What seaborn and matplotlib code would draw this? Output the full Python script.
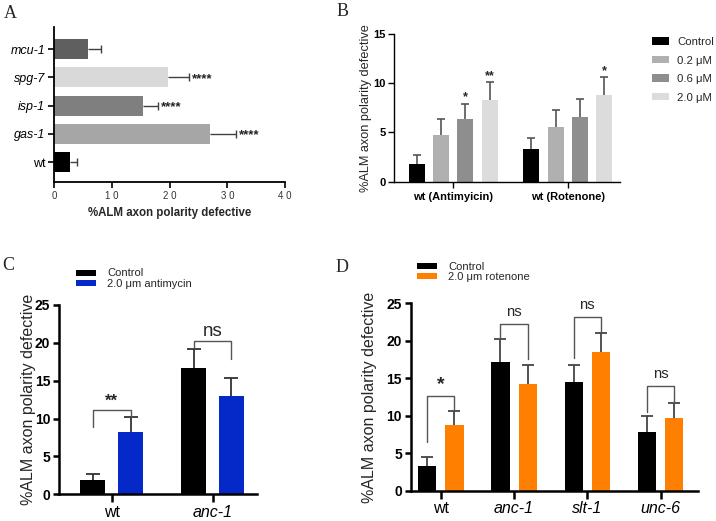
import numpy as np
import pandas as pd
import matplotlib
matplotlib.use("Agg")
import matplotlib.pyplot as plt
import seaborn as sns

# ---- Panel A: mitochondrial mutants ----
a_strains = ["mcu-1", "spg-7", "isp-1", "gas-1", "wt"]
a_mean = [5.9, 19.8, 15.4, 27.0, 2.8]
a_err = [2.2, 3.5, 2.6, 4.5, 1.2]
a_sig = ["", "****", "****", "****", ""]
a_colors = ["#5f5f5f", "#d9d9d9", "#7f7f7f", "#a6a6a6", "#000000"]

# ---- Panel B: dose response ----
b_groups = ["wt (Antimyicin)", "wt (Rotenone)"]
b_doses = ["Control", "0.2 μM", "0.6 μM", "2.0 μM"]
b_control = [1.83, 3.32]
b_02 = [4.77, 5.59]
b_06 = [6.33, 6.60]
b_20 = [8.30, 8.80]
b_control_err = [0.84, 1.15]
b_02_err = [1.56, 1.66]
b_06_err = [1.59, 1.76]
b_20_err = [1.79, 1.80]
b_06_sig = ["*", ""]
b_20_sig = ["**", "*"]
b_colors = ["#000000", "#b0b0b0", "#8e8e8e", "#dcdcdc"]

# ---- Panel C: antimycin ----
c_strains = ["wt", "anc-1"]
c_conditions = ["Control", "2.0 μm antimycin"]
c_control = [1.85, 16.64]
c_control_err = [0.79, 2.59]
c_treated = [8.27, 12.98]
c_treated_err = [1.90, 2.34]
c_sig = ["**", "ns"]
c_colors = ["#000000", "#0528c8"]

# ---- Panel D: rotenone ----
d_strains = ["wt", "anc-1", "slt-1", "unc-6"]
d_conditions = ["Control", "2.0 μm rotenone"]
d_control = [3.25, 17.2, 14.46, 7.87]
d_control_err = [1.24, 3.1, 2.27, 2.05]
d_treated = [8.81, 14.23, 18.55, 9.74]
d_treated_err = [1.87, 2.5, 2.45, 2.0]
d_sig = ["*", "ns", "ns", "ns"]
d_colors = ["#000000", "#ff7f00"]

sns.set_theme(style="ticks")
plt.rcParams["font.family"] = ["Liberation Sans", "DejaVu Sans"]
plt.rcParams["axes.edgecolor"] = "black"
plt.rcParams["xtick.color"] = "black"
plt.rcParams["ytick.color"] = "black"

W, H = 716, 521
fig = plt.figure(figsize=(W / 100, H / 100), dpi=100)


def px_axes(left, right, top, bottom):
    return fig.add_axes([left / W, 1 - bottom / H, (right - left) / W, (bottom - top) / H])


def upper_error(ax, x, y, err, color, lw, capsize, horizontal=False):
    # one-sided SEM bar: hide the cap that sits on the bar end
    z = np.zeros(len(err))
    if horizontal:
        eb = ax.errorbar(x, y, xerr=[z, err], fmt="none", ecolor=color,
                         elinewidth=lw, capthick=lw, capsize=capsize, zorder=1)
    else:
        eb = ax.errorbar(x, y, yerr=[z, err], fmt="none", ecolor=color,
                         elinewidth=lw, capthick=lw, capsize=capsize, zorder=1)
    eb[1][0].set_visible(False)


def add_errors(ax, errs, color, lw, capsize):
    for container, err in zip(ax.containers, errs):
        xs = [b.get_x() + b.get_width() / 2 for b in container]
        ys = [b.get_height() for b in container]
        upper_error(ax, xs, ys, err, color, lw, capsize)


def style_spines(ax, lw):
    sns.despine(ax=ax)
    for s in ["left", "bottom"]:
        ax.spines[s].set_linewidth(lw)


# ================= Panel A =================
axA = px_axes(54.3, 285, 26.7, 181.7)
sns.barplot(x=a_mean, y=a_strains, hue=a_strains, palette=a_colors, legend=False,
            orient="h", width=0.7, saturation=1, linewidth=0, errorbar=None, ax=axA)
for container, err, sig in zip(axA.containers, a_err, a_sig):
    bar = container[0]
    yc = bar.get_y() + bar.get_height() / 2
    upper_error(axA, [bar.get_width()], [yc], [err], "#404040", 1, 3.2, horizontal=True)
    if sig:
        axA.text(bar.get_width() + err + 0.5, yc + 0.05, sig, ha="left", va="center",
                 fontsize=9.5, fontweight="bold", color="#222222")
axA.set_xlim(0, 40)
axA.set_ylim(4.685, -0.79)
axA.set_xticks([0, 10, 20, 30, 40])
axA.set_xticklabels(["0", "1 0", "2 0", "3 0", "4 0"], fontsize=7, color="#333333")
axA.set_yticks(range(len(a_strains)))
axA.set_yticklabels(a_strains, fontsize=9)
for lab in axA.get_yticklabels():
    if lab.get_text() != "wt":
        lab.set_style("italic")
axA.tick_params(axis="both", length=4.5, width=1.2, pad=2)
axA.set_ylabel("")
axA.set_xlabel("%ALM axon polarity defective", fontsize=8.3, fontweight="bold")
axA.xaxis.set_label_coords(0.5, -0.165)
style_spines(axA, 1.3)

# ================= Panel B =================
axB = px_axes(394, 620, 34, 181.7)
b_df = pd.DataFrame({
    "group": b_groups * 4,
    "dose": np.repeat(b_doses, len(b_groups)),
    "value": b_control + b_02 + b_06 + b_20,
})
sns.barplot(data=b_df, x="group", y="value", hue="dose", palette=b_colors, width=0.85,
            gap=0.34, saturation=1, linewidth=0, errorbar=None, ax=axB)
add_errors(axB, [b_control_err, b_02_err, b_06_err, b_20_err], "#555555", 1.2, 3.1)
for container, vals, errs, sigs in [(axB.containers[2], b_06, b_06_err, b_06_sig),
                                    (axB.containers[3], b_20, b_20_err, b_20_sig)]:
    for bar, v, e, s in zip(container, vals, errs, sigs):
        if s:
            axB.text(bar.get_x() + bar.get_width() / 2, v + e + 0.05, s, ha="center",
                     va="bottom", fontsize=9, fontweight="bold")
axB.set_ylim(0, 15)
axB.set_xlim(-0.518, 1.457)
axB.set_yticks([0, 5, 10, 15])
axB.tick_params(axis="both", length=4, width=1, pad=2)
axB.tick_params(axis="x", pad=3.5)
for lab in axB.get_yticklabels() + axB.get_xticklabels():
    lab.set_fontweight("bold")
    lab.set_fontsize(8)
axB.set_xlabel("")
axB.set_ylabel("%ALM axon polarity defective", fontsize=9.2)
axB.yaxis.set_label_coords(-0.097, 0.5)
style_spines(axB, 1)
h, l = axB.get_legend_handles_labels()
axB.legend(h, l, loc="upper left", bbox_to_anchor=(652 / W, 1 - 37 / H),
           bbox_transform=fig.transFigure, frameon=False, fontsize=8.2,
           handlelength=1.5, handleheight=0.6, handletextpad=0.7, labelspacing=0.75,
           borderpad=0, borderaxespad=0)


# ================= Panels C and D =================
def paired_panel(ax, strains, conditions, control, control_err, treated, treated_err,
                 colors, ecolor, capsize):
    df = pd.DataFrame({
        "strain": strains * 2,
        "condition": np.repeat(conditions, len(strains)),
        "value": control + treated,
    })
    sns.barplot(data=df, x="strain", y="value", hue="condition", palette=colors,
                width=0.745, gap=0.33, saturation=1, linewidth=0, errorbar=None, ax=ax)
    add_errors(ax, [control_err, treated_err], ecolor, 1.3, capsize)
    ax.set_ylim(0, 25)
    ax.set_yticks([0, 5, 10, 15, 20, 25])
    ax.tick_params(axis="y", length=4.5, width=1.8, pad=2)
    ax.tick_params(axis="x", length=6, width=1.8, pad=1.5)
    for lab in ax.get_yticklabels():
        lab.set_fontweight("bold")
        lab.set_fontsize(10)
    for lab in ax.get_xticklabels():
        lab.set_fontsize(11.5)
        if lab.get_text() != "wt":
            lab.set_style("italic")
    ax.set_xlabel("")
    ax.set_ylabel("%ALM axon polarity defective", fontsize=11.5)
    style_spines(ax, 1.8)
    return [b.get_x() + b.get_width() / 2 for b in ax.containers[0]], \
           [b.get_x() + b.get_width() / 2 for b in ax.containers[1]]


def bracket(ax, x1, x2, ytop, yl, yr, text, fs, dy, bold=False):
    ax.plot([x1, x1, x2, x2], [yl, ytop, ytop, yr], color="#555555", lw=1, zorder=2)
    ax.text((x1 + x2) / 2, ytop + dy, text, ha="center", va="bottom", fontsize=fs,
            fontweight="bold" if bold else "normal")


axC = px_axes(59.3, 256.7, 305, 494.3)
cx0, cx1 = paired_panel(axC, c_strains, c_conditions, c_control, c_control_err,
                        c_treated, c_treated_err, c_colors, "#333333", 4.8)
axC.set_xlim(-0.519, 1.436)
axC.yaxis.set_label_coords(-0.12, 0.5)
bracket(axC, cx0[0], cx1[0], 11.1, 8.9, 10.2, c_sig[0], 12, 0.2, bold=True)
bracket(axC, cx0[1], cx1[1], 20.3, 19.3, 17.9, c_sig[1], 13.5, 0.1)
h, l = axC.get_legend_handles_labels()
axC.legend(h, l, loc="upper left", bbox_to_anchor=(76 / W, 1 - 268.5 / H),
           bbox_transform=fig.transFigure, frameon=False, fontsize=8,
           handlelength=1.8, handleheight=0.45, handletextpad=1.0, labelspacing=0.02,
           borderpad=0, borderaxespad=0)

axD = px_axes(411, 698, 303.3, 490.7)
dx0, dx1 = paired_panel(axD, d_strains, d_conditions, d_control, d_control_err,
                        d_treated, d_treated_err, d_colors, "#444444", 4.2)
axD.set_xlim(-0.405, 3.509)
axD.yaxis.set_label_coords(-0.117, 0.5)
bracket(axD, dx0[0], dx1[0], 12.7, 6.5, 10.7, d_sig[0], 14, 0.3, bold=True)
bracket(axD, dx0[1], dx1[1], 22.3, 20.3, 17.6, d_sig[1], 10.7, 0.6)
bracket(axD, dx0[2], dx1[2], 23.2, 17.7, 21.2, d_sig[2], 10.7, 0.6)
bracket(axD, dx0[3], dx1[3], 14.0, 10.5, 11.7, d_sig[3], 10.7, 0.6)
h, l = axD.get_legend_handles_labels()
axD.legend(h, l, loc="upper left", bbox_to_anchor=(417 / W, 1 - 262 / H),
           bbox_transform=fig.transFigure, frameon=False, fontsize=8,
           handlelength=1.8, handleheight=0.45, handletextpad=1.0, labelspacing=0.02,
           borderpad=0, borderaxespad=0)

# panel letters
for letter, x, y in [("A", 10, 13), ("B", 343, 11), ("C", 8, 266), ("D", 342, 268)]:
    fig.text(x / W, 1 - y / H, letter, ha="center", va="center", fontsize=13,
             family=["Liberation Serif", "DejaVu Serif"])

fig.savefig("out.png", dpi=100, facecolor="white")
